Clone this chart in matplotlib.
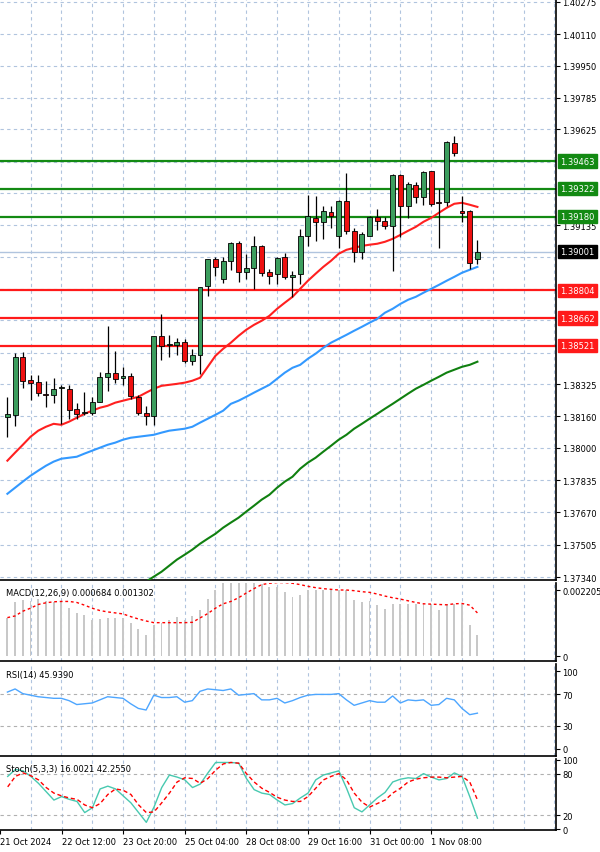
import matplotlib
matplotlib.use("Agg")
import matplotlib.pyplot as plt
import numpy as np

BASE = 1.38
# OHLC in pips (1e-5) relative to 1.38000
opens  = [158,168,464,347,337,276,270,306,301,199,179,179,235,362,383,357,367,260,179,163,571,525,525,541,444,474,826,964,862,954,1046,898,918,1030,898,888,974,872,888,1081,1173,1153,1204,1081,1260,1107,1000,1081,1178,1158,1132,1392,1234,1341,1280,1413,1255,1255,1556,1209,1209,964]
closes = [174,464,342,332,281,270,301,311,194,174,184,235,362,383,352,367,265,179,163,571,520,531,541,444,474,821,964,923,954,1046,898,918,1030,893,877,969,872,882,1081,1183,1153,1209,1183,1260,1107,1000,1092,1178,1158,1132,1392,1234,1347,1280,1408,1245,1250,1561,1505,1199,944,1000]
highs  = [260,485,490,372,372,342,357,321,321,230,286,260,388,622,495,413,383,270,214,571,684,576,561,556,505,821,964,974,974,1051,1056,989,1081,1035,913,974,995,903,1117,1290,1285,1234,1234,1265,1403,1122,1102,1183,1219,1178,1398,1398,1357,1357,1413,1413,1321,1566,1591,1285,1214,1061]
lows   = [56,112,306,245,265,209,230,122,148,148,168,168,235,291,332,321,250,168,117,117,449,464,474,434,423,378,775,877,842,908,847,862,811,877,837,837,862,770,837,1030,1056,1066,1122,1020,1092,949,964,1081,1112,1117,903,1076,1173,1250,1239,1234,1020,1234,1489,1153,913,939]
ma_red = [-66,-25,15,56,87,107,122,117,133,153,173,189,204,214,230,240,250,260,281,301,316,321,326,332,342,357,413,469,505,536,571,602,627,648,673,709,740,770,811,852,888,923,954,990,1010,1020,1030,1036,1041,1051,1066,1086,1107,1127,1153,1173,1199,1224,1245,1250,1240,1229]
ma_blue = [-235,-204,-173,-143,-117,-92,-71,-56,-51,-46,-30,-15,0,15,26,41,51,56,61,66,77,87,92,97,107,128,148,168,189,224,240,260,281,301,321,352,383,408,423,454,480,510,536,556,576,597,617,638,658,689,709,734,755,770,791,811,831,852,872,893,908,923]
ma_green_start = 18
ma_green = [-683,-658,-633,-602,-571,-546,-520,-490,-464,-439,-408,-382,-357,-326,-296,-265,-240,-204,-173,-148,-107,-76,-51,-20,10,41,66,97,122,148,173,199,224,250,276,301,321,342,362,383,398,413,423,439]
# MACD in units of 1.125e-5
macd_main = [114,159,167,164,170,164,159,159,144,128,122,108,110,114,114,114,99,80,63,91,99,108,117,108,119,138,170,196,221,226,226,223,230,215,204,204,189,176,181,196,196,196,196,196,196,167,159,164,150,140,153,155,155,153,155,153,136,153,153,155,91,61]
macd_signal = [114,119,133,142,153,158,161,162,162,159,151,142,135,131,128,125,117,110,104,99,99,99,99,99,100,113,126,142,155,162,173,187,200,212,216,218,218,216,212,207,203,200,198,196,196,194,191,189,184,178,173,169,164,159,155,154,153,152,155,156,151,128]
rsi = [73,77,71,69,67,66,65,65,62,57,58,59,63,67,66,65,58,52,50,69,66,66,67,60,62,74,77,76,75,77,69,70,71,63,63,65,59,62,66,69,70,70,70,71,63,56,59,62,60,60,68,59,63,62,63,56,57,65,63,52,44,45.939]
stoch_k = [76,86,84,76,66,54,42,47,43,40,24,31,58,62,58,48,38,24,10,32,60,78,75,71,60,65,81,96,96,96,95,73,57,52,50,42,35,37,45,52,71,78,81,84,59,31,25,35,45,53,68,72,74,73,80,75,71,73,81,76,47,16.0021]
stoch_d = [61,76,81,77,71,60,52,48,45,43,35,31,37,50,58,56,50,35,24,25,38,52,68,74,73,66,73,85,94,96,95,80,68,59,53,46,42,40,40,47,59,71,76,80,71,52,39,32,37,42,52,59,68,72,74,75,75,74,75,76,68,42.255]
sup_levels = [1.39463, 1.39322, 1.39180]
res_levels = [1.38804, 1.38662, 1.38521]
last_price = 1.39001
price_ticks = [1.40275,1.40110,1.39950,1.39785,1.39625,1.39135,1.38325,1.38160,1.38000,1.37835,1.37670,1.37505,1.37340]
grid_prices = [1.40275,1.40110,1.39950,1.39785,1.39625,1.39460,1.39300,1.39135,1.38975,1.38810,1.38650,1.38485,1.38325,1.38160,1.38000,1.37835,1.37670,1.37505,1.37340]
date_labels = ["21 Oct 2024","22 Oct 12:00","23 Oct 20:00","25 Oct 04:00","28 Oct 08:00","29 Oct 16:00","31 Oct 00:00","1 Nov 08:00"]
date_pos = [-1,7,15,23,31,39,47,55]

plt.rcParams["font.family"] = "DejaVu Sans"
FS = 6.0
W, H = 600, 853
fig = plt.figure(figsize=(6, 8.53), dpi=100)
fig.patch.set_facecolor("white")
def ax_at(top, bot):
    return fig.add_axes([0, 1 - bot / H, 556 / W, (bot - top) / H])
ax = ax_at(0, 581)
am = ax_at(584, 662)
ar = ax_at(665, 757)
ast = ax_at(760, 831)
XL = (-0.96, 71.2)
grid_x = np.arange(3, 72, 4)
gkw = dict(color="#b0c4de", lw=0.8, ls=(0, (3, 3)))
for a in (ax, am, ar, ast):
    a.set_xlim(*XL)
    a.set_xticks([])
    for s in ("left", "top"):
        a.spines[s].set_visible(False)
    for s in ("right", "bottom"):
        a.spines[s].set_color("black"); a.spines[s].set_linewidth(1.2)
    a.yaxis.tick_right()
    a.tick_params(axis="y", labelsize=FS, length=3, pad=1.5, colors="black")
    for gx in grid_x:
        a.axvline(gx, zorder=0, **gkw)

n = len(opens)
idx = np.arange(n)
O = BASE + np.array(opens) / 1e5
C = BASE + np.array(closes) / 1e5
Hh = BASE + np.array(highs) / 1e5
L = BASE + np.array(lows) / 1e5
ax.set_ylim(1.37325, 1.40290)
ax.set_yticks(price_ticks)
ax.set_yticklabels([f"{p:.5f}" for p in price_ticks])
for g in grid_prices:
    ax.axhline(g, zorder=0, **gkw)
ax.axhline(last_price, color="#b0c4de", lw=1, zorder=1)
for lv in sup_levels:
    ax.axhline(lv, color="#138a13", lw=1.6, zorder=2)
for lv in res_levels:
    ax.axhline(lv, color="#ff1a1a", lw=1.6, zorder=2)
ax.plot(idx, BASE + np.array(ma_red) / 1e5, color="#ff2020", lw=1.5, zorder=3)
ax.plot(idx, BASE + np.array(ma_blue) / 1e5, color="#3399ff", lw=1.5, zorder=3)
gi = np.arange(ma_green_start, ma_green_start + len(ma_green))
ax.plot(gi, BASE + np.array(ma_green) / 1e5, color="#108010", lw=1.5, zorder=3)
for i in range(n):
    ax.vlines(i, L[i], Hh[i], color="black", lw=0.9, zorder=4)
    up = C[i] >= O[i]
    bot, h = min(O[i], C[i]), max(abs(C[i] - O[i]), 0.00002)
    ax.add_patch(plt.Rectangle((i - 0.32, bot), 0.64, h, facecolor="#3c9e5e" if up else "#ee1010",
                               edgecolor="black", lw=0.6, zorder=5))
for lv, col in [(l, "#138a13") for l in sup_levels] + [(l, "#ff1a1a") for l in res_levels] + [(last_price, "black")]:
    ax.annotate(f"{lv:.5f}", xy=(1.0, lv), xycoords=("axes fraction", "data"), xytext=(3, 0),
                textcoords="offset points", fontsize=FS, color="white", va="center", ha="left",
                bbox=dict(boxstyle="square,pad=0.25", fc=col, ec=col), annotation_clip=False, zorder=10)

# MACD
u = 1.125e-5
am.bar(idx, np.array(macd_main) * u, width=0.25, color="#c8c8c8", zorder=2)
am.plot(idx, np.array(macd_signal) * u, color="red", lw=1, ls=(0, (2, 2)), zorder=3)
am.set_ylim(-0.000167, 0.002439)
am.set_yticks([0, 0.002205]); am.set_yticklabels(["0", "0.002205"])
am.text(0.01, 0.93, "MACD(12,26,9) 0.000684 0.001302", transform=am.transAxes, fontsize=FS, va="top")

# RSI
ar.plot(idx, rsi, color="#4da6ff", lw=1, zorder=3)
ar.set_ylim(-9, 109)
ar.set_yticks([0, 30, 70, 100])
for lv in (30, 70):
    ar.axhline(lv, color="#b0b0b0", lw=0.8, ls=(0, (3, 3)), zorder=1)
ar.text(0.01, 0.93, "RSI(14) 45.9390", transform=ar.transAxes, fontsize=FS, va="top")

# Stochastic
ast.plot(idx, stoch_k, color="#48c9b0", lw=1, zorder=3)
ast.plot(idx, stoch_d, color="red", lw=1, ls=(0, (3, 2)), zorder=3)
ast.set_ylim(-1, 101)
ast.set_yticks([0, 20, 80, 100])
for lv in (20, 80):
    ast.axhline(lv, color="#b0b0b0", lw=0.8, ls=(0, (3, 3)), zorder=1)
ast.text(0.01, 0.93, "Stoch(5,3,3) 16.0021 42.2550", transform=ast.transAxes, fontsize=FS, va="top")
ast.set_xticks(date_pos)
ast.set_xticklabels(date_labels, fontsize=FS, ha="left")
ast.tick_params(axis="x", length=3, pad=2)

fig.savefig("out.png", dpi=100, facecolor="white")
